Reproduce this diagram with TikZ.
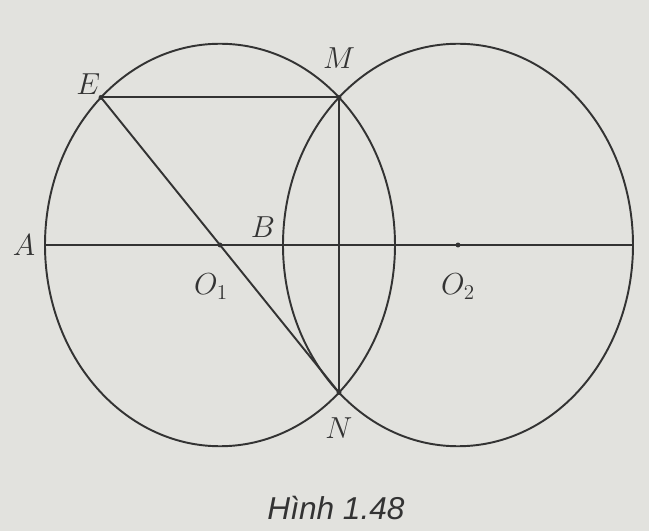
\documentclass[tikz,border=0pt]{standalone}
\usepackage{fontspec}
\newfontfamily\capfont{Liberation Sans}
\usepackage{xcolor}
\usetikzlibrary{positioning}
\definecolor{ink}{HTML}{333333}
\definecolor{paper}{HTML}{E2E2DE}

\begin{document}
\begin{tikzpicture}[
  line width=1.1pt,draw=ink,
  lbl/.style={font=\LARGE,text=ink,inner sep=1pt},
  captext/.style={font=\capfont\itshape\fontsize{18}{20}\selectfont,text=ink}]
\fill[paper] (-4.4,-5.72) rectangle (8.58,4.9);
\useasboundingbox (-4.4,-5.72) rectangle (8.58,4.9);
\begin{scope}[yscale=1.15]
\coordinate (O1) at (0,0);
\coordinate (O2) at (4.76,0);
\coordinate (A) at (-3.5,0);
\coordinate (D) at (8.26,0);
\coordinate (B) at (1.26,0);
\coordinate (M) at (47.16:3.5);
\coordinate (N) at (-47.16:3.5);
\coordinate (E) at (132.84:3.5);
\draw (O1) circle (3.5);
\draw (O2) circle (3.5);
\end{scope}
\foreach \x/\y in {A/D,E/M,E/N,M/N} \draw (\x)--(\y);
\foreach \p in {E,M,N,O1,O2} \fill[ink] (\p) circle (1.4pt);
\node[lbl,left=4pt of A] (lA) {$A$};
\node[lbl,above left=0pt and -1pt of E] (lE) {$E$};
\node[lbl,above=15pt of M] (lM) {$M$};
\node[lbl,above left=3pt and 3pt of B] (lB) {$B$};
\node[lbl,below=15pt of O1,xshift=-5pt] (lO1) {$O_1$};
\node[lbl,below=15pt of O2] (lO2) {$O_2$};
\node[lbl,below=13pt of N] (lN) {$N$};
\node[captext] (c) at (2.32,-5.26) {Hình 1.48};
\end{tikzpicture}
\end{document}
